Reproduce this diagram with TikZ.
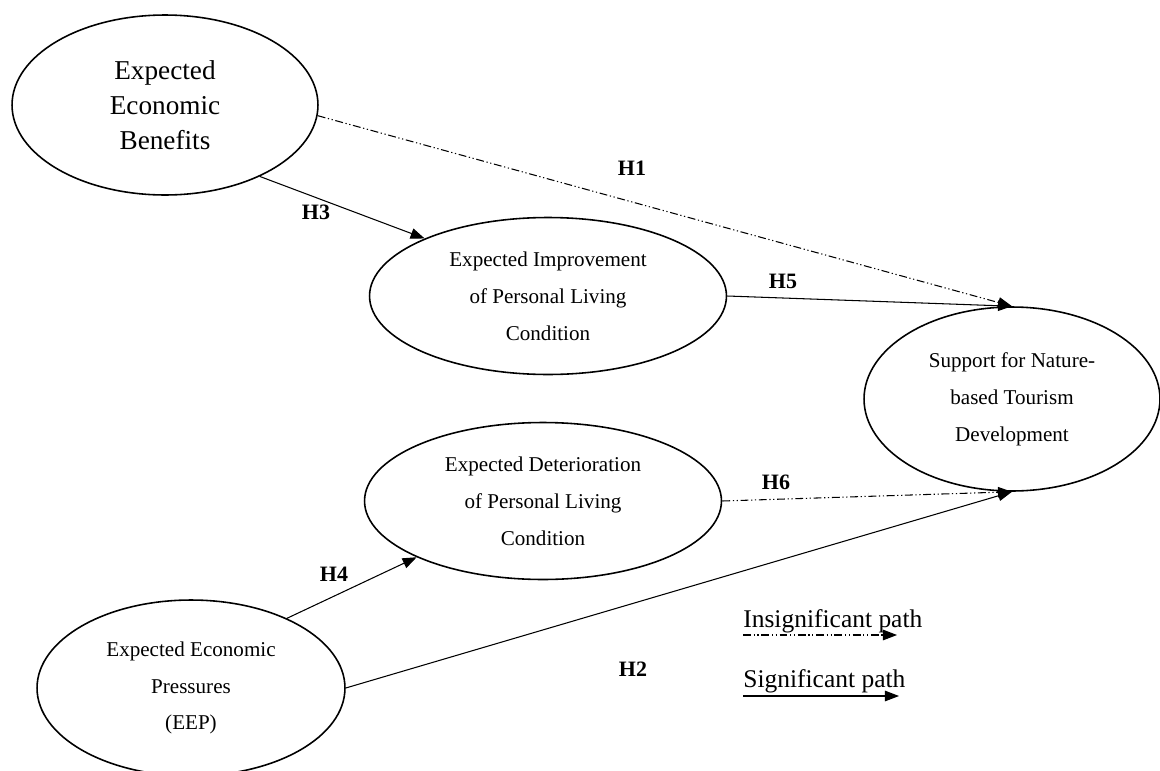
\documentclass[tikz,border=0pt]{standalone}
\usepackage{fontspec}
\setmainfont{Liberation Serif}
\usetikzlibrary{shapes.geometric, arrows.meta, positioning}

\tikzset{
    latent/.style={ellipse, draw, line width=0.9pt, inner sep=0pt, align=center,
        font=\fontsize{12}{21}\selectfont},
    sigpath/.style={line width=0.6pt, -{Triangle[length=8pt,width=6pt]}},
    insigpath/.style={sigpath, dash pattern=on 4.5pt off 1.5pt on 0.7pt off 1.5pt on 0.7pt off 1.5pt},
    hyp/.style={anchor=base, inner sep=0pt, font=\fontsize{12.5}{14}\selectfont\bfseries},
    legendtext/.style={anchor=base west, inner sep=0pt, font=\fontsize{14.5}{17}\selectfont}
}

\begin{document}
\begin{tikzpicture}[x=0.02cm, y=-0.02cm]
    \useasboundingbox (0,0) rectangle (1160,771);

    % Constructs
    \node[latent, minimum width=6.12cm, minimum height=3.6cm,
          font=\fontsize{15.5}{20}\selectfont] (eeb) at (165,105)
          {Expected\\Economic\\Benefits};
    \node[latent, minimum width=7.14cm, minimum height=3.14cm] (eiplc) at (548,296)
          {Expected Improvement\\of Personal Living\\Condition};
    \node[latent, minimum width=7.14cm, minimum height=3.14cm] (edplc) at (543,501)
          {Expected Deterioration\\of Personal Living\\Condition};
    \node[latent, minimum width=5.92cm, minimum height=3.68cm] (sup) at (1012,399)
          {Support for Nature-\\based Tourism\\Development};
    \node[latent, minimum width=6.16cm, minimum height=3.52cm] (eep) at (191,688)
          {Expected Economic\\Pressures\\(EEP)};

    % Paths
    \draw[insigpath] (eeb.-4) -- (sup.north);
    \draw[sigpath] (eeb.-37) -- (eiplc.155);
    \draw[sigpath] (eiplc.east) -- (sup.north);
    \draw[insigpath] (edplc.east) -- (sup.south);
    \draw[sigpath] (eep.36) -- (edplc.204);
    \draw[sigpath] (eep.east) -- (sup.south);

    % Hypothesis labels
    \node[hyp] (h1) at (632,175) {H1};
    \node[hyp] (h3) at (316,219) {H3};
    \node[hyp] (h5) at (783,288) {H5};
    \node[hyp] (h6) at (776,489) {H6};
    \node[hyp] (h4) at (334,581) {H4};
    \node[hyp] (h2) at (633,676) {H2};

    % Legend
    \node[legendtext] (insig) at (743,627) {Insignificant path};
    \node[legendtext] (sig) at (743,687) {Significant path};
    \coordinate (insigA) at (743,635);
    \coordinate (insigB) at (897,635);
    \coordinate (sigA) at (743,696);
    \coordinate (sigB) at (899,696);
    \draw[insigpath] (insigA) -- (insigB);
    \draw[sigpath] (sigA) -- (sigB);

\end{tikzpicture}
\end{document}
